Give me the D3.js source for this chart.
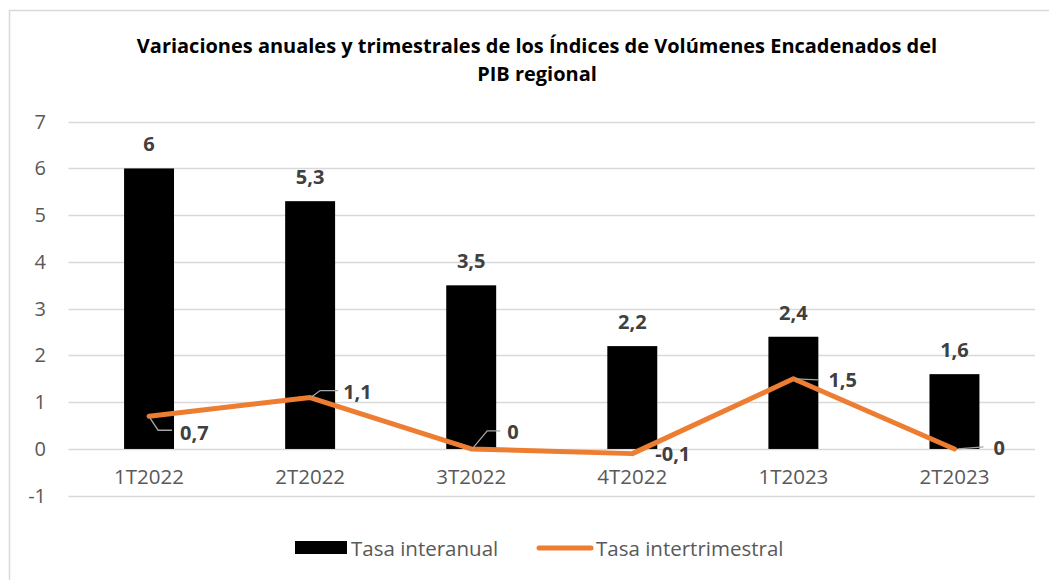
<!DOCTYPE html>
<html>
<head>
<meta charset="utf-8">
<script src="https://cdn.jsdelivr.net/npm/d3@7"></script>
<style>
  body { margin: 0; background: #fff; }
  svg { display: block; font-family: "Open Sans", "Liberation Sans", sans-serif; }
</style>
</head>
<body>
<script>
// Chart data
const categories = ['1T2022', '2T2022', '3T2022', '4T2022', '1T2023', '2T2023'];
const interanual = [6, 5.3, 3.5, 2.2, 2.4, 1.6];
const intertrimestral = [0.7, 1.1, 0, -0.1, 1.5, 0];
const yTicks = [-1, 0, 1, 2, 3, 4, 5, 6, 7];
const titleLines = [
  'Variaciones anuales y trimestrales de los Índices de Volúmenes Encadenados del',
  'PIB regional'
];
const seriesNames = ['Tasa interanual', 'Tasa intertrimestral'];

// label placement for the line series (offset from point, leader path)
const lineLabelLayout = [
  { dx: 31, dy: 16, leader: [[1, 2], [9, 14], [23, 14]] },
  { dx: 33, dy: -6, leader: [[2, -1], [10, -7], [28, -7]] },
  { dx: 36, dy: -17, leader: [[1, 0], [16, -18], [29, -18]] },
  { dx: 23, dy: 0, leader: null },
  { dx: 35, dy: 1, leader: [[2, 0], [25, 1]] },
  { dx: 39, dy: -1, leader: [[3, 0], [29, -2]] }
];

const W = 1049, H = 580;
const fmt = (v) => String(v).replace('.', ',');

const svg = d3.select('body').append('svg')
  .attr('width', W)
  .attr('height', H);

// outer frame
svg.append('rect')
  .attr('x', 9.5).attr('y', 10.5)
  .attr('width', W + 10).attr('height', H + 10)
  .attr('fill', '#fff')
  .attr('stroke', '#d9d9d9')
  .attr('stroke-width', 1.5);

// scales
const x = d3.scaleBand().domain(categories).range([68.5, 1035]).padding(0);
const y = d3.scaleLinear().domain([-1, 7]).range([495.7, 121.7]);
const barW = x.bandwidth() * 0.31;

// title
const title = svg.append('text')
  .attr('text-anchor', 'middle')
  .attr('font-weight', 'bold')
  .attr('fill', '#000')
  .attr('font-size', 18);
titleLines.forEach((t, i) => {
  title.append('tspan').attr('x', 537).attr('y', 53 + i * 28).text(t);
});
// fit first line to the reference width
const firstLen = title.select('tspan').node().getComputedTextLength();
title.attr('font-size', 18 * 801 / firstLen);

// gridlines
svg.append('g')
  .selectAll('line')
  .data(yTicks)
  .join('line')
  .attr('x1', 68.5).attr('x2', 1035)
  .attr('y1', (d) => Math.round(y(d)) + 0.5)
  .attr('y2', (d) => Math.round(y(d)) + 0.5)
  .attr('stroke', '#d9d9d9')
  .attr('stroke-width', 1.3);

// y axis labels
const yAxis = d3.axisLeft(y).tickValues(yTicks).tickFormat((d) => String(d))
  .tickSize(0).tickPadding(0);
svg.append('g')
  .attr('transform', 'translate(46,0)')
  .call(yAxis)
  .call((g) => g.select('.domain').remove())
  .call((g) => g.selectAll('text')
    .attr('font-size', 20)
    .attr('fill', '#595959')
    .attr('font-family', '"Open Sans", sans-serif'));

// x axis labels
const xAxis = d3.axisBottom(x).tickSize(0).tickPadding(0);
svg.append('g')
  .attr('transform', 'translate(0,469)')
  .call(xAxis)
  .call((g) => g.select('.domain').remove())
  .call((g) => g.selectAll('text')
    .attr('font-size', 20.5)
    .attr('fill', '#595959')
    .attr('font-family', '"Open Sans", sans-serif'));

// bars
svg.append('g')
  .selectAll('rect')
  .data(interanual)
  .join('rect')
  .attr('x', (d, i) => x(categories[i]) + (x.bandwidth() - barW) / 2)
  .attr('y', (d) => y(d))
  .attr('width', barW)
  .attr('height', (d) => y(0) - y(d))
  .attr('fill', '#000');

// bar labels
svg.append('g')
  .selectAll('text')
  .data(interanual)
  .join('text')
  .attr('x', (d, i) => x(categories[i]) + x.bandwidth() / 2)
  .attr('y', (d) => y(d) - 17)
  .attr('text-anchor', 'middle')
  .attr('font-size', 20)
  .attr('font-weight', 'bold')
  .attr('fill', '#404040')
  .text((d) => fmt(d));

// line
const cx = (i) => x(categories[i]) + x.bandwidth() / 2;
const line = d3.line()
  .x((d, i) => cx(i))
  .y((d) => y(d));

svg.append('path')
  .datum(intertrimestral)
  .attr('d', line)
  .attr('fill', 'none')
  .attr('stroke', '#ED7D31')
  .attr('stroke-width', 5)
  .attr('stroke-linejoin', 'round')
  .attr('stroke-linecap', 'round');

// leader lines + labels for line series
const lbl = svg.append('g');
intertrimestral.forEach((v, i) => {
  const px = cx(i), py = y(v);
  const L = lineLabelLayout[i];
  if (L.leader) {
    lbl.append('path')
      .attr('d', d3.line()(L.leader.map(([a, b]) => [px + a, py + b])))
      .attr('fill', 'none')
      .attr('stroke', '#a6a6a6')
      .attr('stroke-width', 1.3);
  }
  lbl.append('text')
    .attr('x', px + L.dx)
    .attr('y', py + L.dy)
    .attr('dominant-baseline', 'central')
    .attr('font-size', 20)
    .attr('font-weight', 'bold')
    .attr('fill', '#404040')
    .text(fmt(v));
});

// legend
const legend = svg.append('g');
legend.append('rect')
  .attr('x', 295).attr('y', 541)
  .attr('width', 52).attr('height', 13)
  .attr('fill', '#000');
legend.append('text')
  .attr('x', 351).attr('y', 548)
  .attr('dominant-baseline', 'central')
  .attr('font-size', 20.5)
  .attr('fill', '#595959')
  .text(seriesNames[0]);
legend.append('line')
  .attr('x1', 539).attr('x2', 591)
  .attr('y1', 548).attr('y2', 548)
  .attr('stroke', '#ED7D31')
  .attr('stroke-width', 5)
  .attr('stroke-linecap', 'round');
legend.append('text')
  .attr('x', 596).attr('y', 548)
  .attr('dominant-baseline', 'central')
  .attr('font-size', 20.5)
  .attr('fill', '#595959')
  .text(seriesNames[1]);
</script>
</body>
</html>
